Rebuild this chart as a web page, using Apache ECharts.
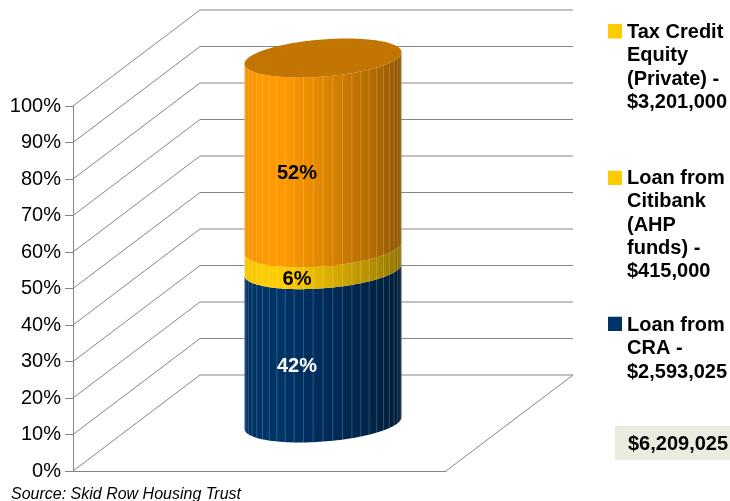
<!DOCTYPE html>
<html><head><meta charset="utf-8">
<style>html,body{margin:0;padding:0;background:#fff}#c{width:730px;height:501px}</style>
<script src="https://cdn.jsdelivr.net/npm/echarts@6/dist/echarts.min.js"></script>
</head><body><div id="c"></div>
<script>
const categories = ['Financing'];
const craValue = 42;
const citibankValue = 6;
const taxCreditValue = 52;
const craName = 'Loan from\nCRA -\n$2,593,025';
const citibankName = 'Loan from\nCitibank\n(AHP\nfunds) -\n$415,000';
const taxCreditName = 'Tax Credit\nEquity\n(Private) -\n$3,201,000';
const gridTicks = [0,10,20,30,40,50,60,70,80,90,100];
const totalLabel = '$6,209,025';
const sourceLabel = 'Source: Skid Row Housing Trust';

const DX = 127, DY = -96;
const RX = 78.5, RY = 18.6, SHEAR = 5.8;
const FONT = '"Liberation Sans", Arial, sans-serif';

function shade(rgb, k){ return 'rgb(' + rgb.map(c => Math.round(c*k)).join(',') + ')'; }
function sideGradient(rgb){
  const stops = [[0,.95],[.1,1],[.25,1],[.4,.93],[.55,.85],[.7,.76],[.85,.68],[.97,.58],[1,.54]];
  return {type:'linear',x:0,y:0,x2:1,y2:0,colorStops:stops.map(s=>({offset:s[0],color:shade(rgb,s[1])}))};
}
function wallRender(params, api){
  const c = api.coord([0, api.value(0)]);
  const size = api.size([1,0]);
  const x0 = c[0] - size[0]/2, y = c[1];
  return {type:'polyline',shape:{points:[[x0,y],[x0+DX,y+DY],[x0+size[0]+DX,y+DY]]},
    style:{stroke:'#858585',lineWidth:1,fill:null},silent:true};
}
function floorRender(params, api){
  const c = api.coord([0, 0]);
  const size = api.size([1,0]);
  const x1 = c[0] + size[0]/2;
  return {type:'line',shape:{x1:x1,y1:c[1],x2:x1+DX,y2:c[1]+DY},
    style:{stroke:'#858585',lineWidth:1},silent:true};
}
function cylinderRender(rgb, capRgb, textColor){
  return function(params, api){
    const from = api.value(1), to = api.value(2);
    const a = api.coord([0, from]), b = api.coord([0, to]), m = api.coord([0,(from+to)/2]);
    const cx = a[0] + DX/2;
    const arc = (cy, s, e, n) => {
      const p = [];
      for(let i=0;i<=n;i++){
        const t = s + (e-s)*i/n;
        p.push([cx+RX*Math.cos(t), cy - SHEAR*Math.cos(t) + RY*Math.sin(t)]);
      }
      return p;
    };
    const cyA = a[1] + DY/2, cyB = b[1] + DY/2;
    const children = [{type:'polygon',shape:{points:arc(cyA,0,Math.PI,72).concat(arc(cyB,Math.PI,0,72))},
      style:{fill:sideGradient(rgb)},silent:true}];
    for(let k=-12;k<=12;k++){
      const t = Math.PI/2 + k*7.2*Math.PI/180;
      const x = cx + RX*Math.cos(t);
      const yLow = cyA - SHEAR*Math.cos(t) + RY*Math.sin(t);
      const yHigh = cyB - SHEAR*Math.cos(t) + RY*Math.sin(t);
      children.push({type:'line',shape:{x1:x,y1:yLow,x2:x,y2:yHigh},
        style:{stroke:'rgba(255,255,255,0.2)',lineWidth:1},silent:true});
    }
    if(capRgb){
      children.push({type:'polygon',shape:{points:arc(cyB,0,Math.PI*2,144)},
        style:{fill:shade(capRgb,1)},silent:true});
    }
    children.push({type:'text',x:cx-26,y:m[1]+DY/2+20.5,style:{text:Math.round(to-from)+'%',fill:textColor,
      font:'bold 20px '+FONT,textAlign:'center',textVerticalAlign:'middle'},silent:true});
    return {type:'group',children:children};
  };
}
function legendOf(name, top, height, iconOffset, color){
  const o = iconOffset, e = iconOffset + 14.3;
  return {data:[{name:name,icon:'path://M0 '+o+'L14 '+o+'L14 '+e+'L0 '+e+'Z M0 0L0 0Z M0 '+height+'L0 '+height+'Z'}],
    left:608,top:top,padding:0,itemWidth:14,itemHeight:height,selectedMode:false,
    itemStyle:{color:color,borderWidth:0},
    textStyle:{fontFamily:FONT,fontWeight:'bold',fontSize:20,lineHeight:23.25,color:'#000'}};
}
const chart = echarts.init(document.getElementById('c'),null,{renderer:'canvas'});
const stack1 = craValue, stack2 = craValue + citibankValue, stack3 = stack2 + taxCreditValue;
chart.setOption({
  animation:false,
  tooltip:{show:false},
  grid:{left:73,top:106,width:373,height:365,containLabel:false},
  xAxis:{type:'category',data:categories,axisTick:{show:false},axisLabel:{show:false},
    axisLine:{show:true,lineStyle:{color:'#858585',width:1}},splitLine:{show:false}},
  yAxis:{type:'value',min:0,max:100,interval:10,splitLine:{show:false},
    axisLine:{show:true,lineStyle:{color:'#858585',width:1}},
    axisTick:{show:true,length:8,lineStyle:{color:'#858585',width:1}},
    axisLabel:{margin:12,fontFamily:FONT,fontSize:20,color:'#000',formatter:'{value}%',padding:[2,0,0,0]}},
  legend:[legendOf(taxCreditName,21,93,3.1,'#FFCC00'),legendOf(citibankName,167,116.25,3.8,'#FFCC00'),legendOf(craName,314,69.75,2.8,'#003366')],
  series:[
    {type:'custom',name:'gridlines',z:1,silent:true,data:gridTicks.map(v=>[v]),renderItem:wallRender,encode:{y:0}},
    {type:'custom',name:'floor',z:1,silent:true,data:[[0]],renderItem:floorRender,encode:{y:0}},
    {type:'custom',name:craName,z:3,itemStyle:{color:'#003366'},data:[[0,0,stack1]],renderItem:cylinderRender([0,51,102],null,'#fff'),encode:{x:0,y:[1,2]}},
    {type:'custom',name:citibankName,z:3,itemStyle:{color:'#FFCC00'},data:[[0,stack1,stack2]],renderItem:cylinderRender([255,204,0],null,'#000'),encode:{x:0,y:[1,2]}},
    {type:'custom',name:taxCreditName,z:3,itemStyle:{color:'#FF9900'},data:[[0,stack2,stack3]],renderItem:cylinderRender([255,153,0],[194,117,0],'#000'),encode:{x:0,y:[1,2]}}
  ],
  graphic:[
    {type:'rect',z:5,shape:{x:615,y:426,width:115,height:34},style:{fill:'#ECEBE0'},silent:true},
    {type:'text',z:6,x:628,y:444,style:{text:totalLabel,fill:'#000',font:'bold 20px '+FONT,textVerticalAlign:'middle'},silent:true},
    {type:'text',z:6,x:11,y:495,style:{text:sourceLabel,fill:'#000',font:'italic 16px '+FONT,textVerticalAlign:'middle'},silent:true}
  ]
});
</script></body></html>
